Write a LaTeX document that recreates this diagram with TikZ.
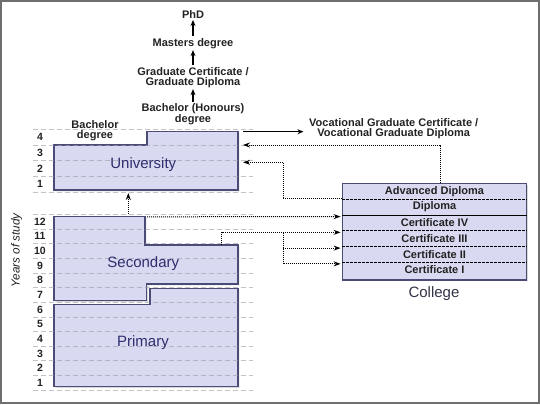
\documentclass[tikz,border=0pt]{standalone}
\usepackage{fontspec}
\setmainfont{Liberation Sans}
\usetikzlibrary{arrows.meta,shadows}
\definecolor{boxfill}{HTML}{D9D9F1}
\definecolor{boxline}{HTML}{4B4B78}
\definecolor{gridcol}{HTML}{9A9AA4}
\definecolor{txtcol}{HTML}{222222}
\definecolor{stagetxt}{HTML}{2E2E6E}
\definecolor{collegetxt}{HTML}{333348}
\definecolor{framecol}{HTML}{6E6E6E}
\tikzset{
  stagebox/.style={draw=boxline, fill=boxfill, line width=1.4pt,
    drop shadow={shadow xshift=1.3pt, shadow yshift=-1.3pt, opacity=.3}},
  gridline/.style={draw=gridcol, line width=0.6pt, dash pattern=on 5pt off 3pt, opacity=0.6},
  yearnum/.style={font=\bfseries\fontsize{10.5}{11}\selectfont, text=txtcol, inner sep=0pt},
  lbl/.style={font=\bfseries\fontsize{11}{10}\selectfont, text=txtcol, align=center, inner sep=1.5pt},
  rowlbl/.style={lbl, minimum width=184.4pt, minimum height=15.75pt, inner sep=0pt},
  stage/.style={font=\fontsize{15}{17}\selectfont, text=stagetxt},
  rowsep/.style={line width=0.8pt, dash pattern=on 2.5pt off 1.5pt},
  route/.style={densely dotted, line width=1pt, -{Stealth[length=7pt,width=5pt]}},
  climb/.style={line width=1.3pt, -{Stealth[length=6pt,width=5pt]}},
}

\begin{document}
\begin{tikzpicture}[x=1pt,y=-1pt]
\useasboundingbox (0,0) rectangle (540,404);
\draw[framecol, line width=2pt] (1,1) rectangle (539,403);

% the three school stages
\draw[stagebox] (54,190) -- (54,145) -- (147,145) -- (147,131.5) -- (238,131.5) -- (238,190) -- cycle;
\draw[stagebox] (54,216.7) -- (145,216.7) -- (145,245) -- (238,245) -- (238,284) -- (146.7,284) -- (146.7,300.7) -- (54,300.7) -- cycle;
\draw[stagebox] (54,304.3) -- (150,304.3) -- (150,288.3) -- (238,288.3) -- (238,386.7) -- (54,386.7) -- cycle;

% years of study
\foreach \k in {0,...,4} \draw[gridline] (33,{192-15.68*\k}) -- (253,{192-15.68*\k});
\foreach \k in {0,...,12} \draw[gridline] (33,{390-14.64*\k}) -- (253,{390-14.64*\k});
\foreach \n in {1,...,4} \node[yearnum] (u\n) at (40,{184.2-15.68*(\n-1)}) {\n};
\foreach \n in {1,...,12} \node[yearnum] (s\n) at (40,{382.7-14.64*(\n-1)}) {\n};
\node[font=\itshape\fontsize{11.7}{13}\selectfont, text=txtcol, rotate=90] (yos) at (16.7,250.5) {Years of study};

\node[stage] (uni) at (143.3,165) {University};
\node[stage] (sec) at (143.3,264) {Secondary};
\node[stage] (pri) at (143,343) {Primary};

% higher degrees
\node[lbl] (phd) at (193,14.3) {PhD};
\node[lbl] (mast) at (193,43.3) {Masters degree};
\node[lbl] (grad) at (193,77.3) {Graduate Certificate /\\Graduate Diploma};
\node[lbl] (hons) at (193,114.2) {Bachelor (Honours)\\degree};
\node[lbl] (bach) at (95,130.7) {Bachelor\\degree};
\node[lbl] (voc) at (393.7,129) {Vocational Graduate Certificate /\\Vocational Graduate Diploma};
\draw[climb] (hons) -- (grad);
\draw[climb] (grad) -- (mast);
\draw[climb] (mast) -- (phd);

% college
\draw[stagebox] (342.3,183.3) rectangle (526.7,280);
\foreach \lbl [count=\i] in {Advanced Diploma,Diploma,Certificate IV,Certificate III,Certificate II,Certificate I}
  \node[rowlbl] (row\i) at (434.5,{183.3+15.75*(\i-0.5)}) {\lbl};
\foreach \i in {1,3,4,5} \draw[rowsep] (row\i.south west) -- (row\i.south east);
\draw[line width=0.9pt] (row2.south west) -- (row2.south east);
\node[stage, text=collegetxt] (coll) at (434,294) {College};

% pathways
\coordinate (uniTR) at (238,131.7);
\coordinate (uniR3) at (238,145);
\coordinate (uniR2) at (238,162.3);
\coordinate (uniB) at (128.3,190);
\coordinate (secL) at (128.3,216.7);
\coordinate (secTop) at (147,216.8);
\coordinate (secTen) at (221.7,245);
\coordinate (fork) at (283,232.55);
\coordinate (advTop) at (440,183.3);

\draw[climb, shorten >=4pt] ([xshift=5pt]uniTR) -- (uniTR -| voc.west);
\draw[route, shorten <=2.5pt, shorten >=3pt] (secL) -- (uniB);
\draw[route] (advTop) |- ([xshift=5pt]uniR3);
\draw[route] (row2.north west) -- (row2.north west -| fork) |- ([xshift=5pt]uniR2);
\draw[route, shorten >=1.5pt] (secTop) -- ([yshift=-2pt]row3.north west);
\draw[route, shorten >=1.5pt] (secTen) |- ([yshift=-2pt]row4.north west);
\draw[route, shorten >=1.5pt] (fork) |- ([yshift=-2pt]row5.north west);
\draw[route, shorten >=1.5pt] (fork) |- ([yshift=-2pt]row6.north west);
\end{tikzpicture}
\end{document}
